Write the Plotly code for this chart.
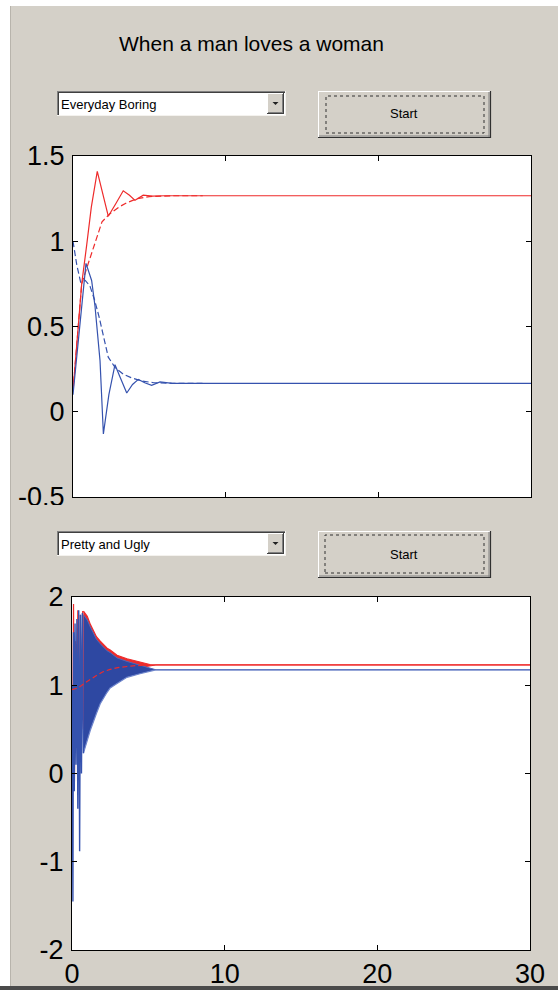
import plotly.graph_objects as go

W, H = 558, 990
GRAY = "#D4D0C8"
RED = "#EE2B2B"
BLUE = "#3552AE"
FONT = "Liberation Sans, Arial, sans-serif"

# ---------------- data: top panel ("Everyday Boring") ----------------
red_solid_t = [0, 0.2, 0.4, 0.57, 0.9, 1.2, 1.59, 1.9, 2.31, 2.8, 3.29, 3.7, 4.06, 4.6, 5.2, 6.0, 30]
red_solid_y = [0.12, 0.33, 0.55, 0.75, 0.98, 1.2, 1.41, 1.3, 1.147, 1.22, 1.296, 1.27, 1.24, 1.27, 1.265, 1.267, 1.267]

red_dash_t = [0, 0.3, 0.57, 1.0, 1.5, 1.9, 2.4, 3.0, 3.5, 4.2, 5.0, 6.5, 8.5]
red_dash_y = [0.12, 0.45, 0.75, 0.87, 1.01, 1.114, 1.16, 1.2, 1.225, 1.25, 1.262, 1.267, 1.267]

blue_solid_t = [0, 0.35, 0.85, 1.22, 1.44, 1.77, 1.99, 2.35, 2.75, 3.1, 3.52, 3.9, 4.28, 4.7, 5.15, 5.7, 6.5, 30]
blue_solid_y = [0.1, 0.42, 0.87, 0.77, 0.62, 0.3, -0.13, 0.1, 0.276, 0.2, 0.11, 0.16, 0.19, 0.17, 0.155, 0.175, 0.167, 0.167]

blue_dash_t = [0, 0.25, 0.5, 0.8, 1.1, 1.4, 1.7, 1.96, 2.31, 2.75, 3.3, 3.8, 4.5, 5.3, 6.5, 8.5]
blue_dash_y = [1.0, 0.86, 0.76, 0.77, 0.74, 0.66, 0.56, 0.45, 0.32, 0.26, 0.22, 0.2, 0.18, 0.17, 0.167, 0.167]

# ---------------- data: bottom panel ("Pretty and Ugly") ----------------
blue_early_t = [0.0, 0.03, 0.06, 0.1, 0.15, 0.2, 0.26, 0.32, 0.38, 0.44, 0.5, 0.56, 0.62, 0.68, 0.75]
blue_early_y = [1.0, -0.6, -1.45, 1.6, -0.2, 1.7, 0.1, 1.75, -0.4, 1.85, -0.88, 1.8, 0.0, 1.82, 0.23]

red_early_t = [0.0, 0.05, 0.1, 0.16, 0.22, 0.3, 0.38, 0.46, 0.54, 0.62, 0.7, 0.75]
red_early_y = [1.0, 0.3, 1.92, -0.1, 1.5, 0.4, 1.85, 0.2, 1.8, 0.5, 1.84, 0.5]

# envelopes of the dense oscillation
env_t = [0.75, 1.0, 1.2, 1.6, 1.85, 2.3, 2.5, 2.95, 3.6, 4.45, 5.1, 5.5, 30]
blue_hi = [1.8, 1.74, 1.66, 1.52, 1.47, 1.39, 1.37, 1.31, 1.27, 1.23, 1.2, 1.175, 1.175]
blue_lo = [0.23, 0.38, 0.49, 0.68, 0.79, 0.92, 0.97, 1.02, 1.09, 1.13, 1.16, 1.175, 1.175]
red_hi = [1.84, 1.78, 1.69, 1.55, 1.5, 1.42, 1.4, 1.34, 1.3, 1.26, 1.235, 1.23, 1.23]
red_lo = [0.5, 0.6, 0.7, 0.85, 0.95, 1.05, 1.08, 1.12, 1.16, 1.2, 1.22, 1.23, 1.23]

red_smooth_t = [0.0, 0.4, 0.8, 1.2, 1.6, 2.0, 2.5, 3.0, 4.0, 5.0]
red_smooth_y = [0.95, 0.97, 1.02, 1.07, 1.11, 1.15, 1.18, 1.2, 1.22, 1.23]

x_ticks = [0, 10, 20, 30]
x_ticktext = ["0", "10", "20", "30"]
top_yticks = [-0.5, 0, 0.5, 1, 1.5]
top_yticktext = ["-0.5", "0", "0.5", "1", "1.5"]
bot_yticks = [-2, -1, 0, 1, 2]
bot_yticktext = ["-2", "-1", "0", "1", "2"]

title_text = "When a man loves a woman"
menu1_text = "Everyday Boring"
menu2_text = "Pretty and Ugly"
button_text = "Start"


def X(px):
    return px / W


def Y(py):
    return 1 - py / H


fig = go.Figure()

# top panel traces
fig.add_trace(go.Scatter(x=red_dash_t, y=red_dash_y, mode="lines",
                         line=dict(color=RED, width=1.2, dash="6px,3px"), xaxis="x", yaxis="y"))
fig.add_trace(go.Scatter(x=red_solid_t, y=red_solid_y, mode="lines",
                         line=dict(color=RED, width=1.2), xaxis="x", yaxis="y"))
fig.add_trace(go.Scatter(x=blue_dash_t, y=blue_dash_y, mode="lines",
                         line=dict(color=BLUE, width=1.2, dash="6px,3px"), xaxis="x", yaxis="y"))
fig.add_trace(go.Scatter(x=blue_solid_t, y=blue_solid_y, mode="lines",
                         line=dict(color=BLUE, width=1.2), xaxis="x", yaxis="y"))

# bottom panel traces
fig.add_trace(go.Scatter(x=env_t, y=red_lo, mode="lines",
                         line=dict(color=RED, width=1), xaxis="x2", yaxis="y2"))
fig.add_trace(go.Scatter(x=env_t, y=red_hi, mode="lines", fill="tonexty", fillcolor=RED,
                         line=dict(color=RED, width=1.2), xaxis="x2", yaxis="y2"))
fig.add_trace(go.Scatter(x=env_t, y=blue_lo, mode="lines",
                         line=dict(color="#6F86CC", width=1.2), xaxis="x2", yaxis="y2"))
fig.add_trace(go.Scatter(x=env_t, y=blue_hi, mode="lines", fill="tonexty", fillcolor="#2E48A2",
                         line=dict(color="#5068B8", width=1), xaxis="x2", yaxis="y2"))
fig.add_trace(go.Scatter(x=red_early_t, y=red_early_y, mode="lines",
                         line=dict(color=RED, width=1.2), xaxis="x2", yaxis="y2"))
fig.add_trace(go.Scatter(x=blue_early_t, y=blue_early_y, mode="lines",
                         line=dict(color=BLUE, width=1.4), xaxis="x2", yaxis="y2"))
fig.add_trace(go.Scatter(x=red_smooth_t, y=red_smooth_y, mode="lines",
                         line=dict(color=RED, width=1.2, dash="5px,3px"), xaxis="x2", yaxis="y2"))

axis_common = dict(showgrid=False, zeroline=False, showline=True, linecolor="black", linewidth=1,
                   mirror="ticks", ticks="inside", ticklen=5, tickcolor="black", tickwidth=1,
                   tickfont=dict(family=FONT, size=27, color="black"), fixedrange=True,
                   automargin=False)

fig.update_layout(
    width=W, height=H, autosize=False,
    margin=dict(l=0, r=0, t=0, b=0, pad=0, autoexpand=False),
    paper_bgcolor=GRAY, plot_bgcolor="white",
    showlegend=False,
    xaxis=dict(domain=[X(73), X(531)], range=[0, 30], tickvals=x_ticks, showticklabels=False,
               anchor="y", **axis_common),
    yaxis=dict(domain=[Y(497), Y(156)], range=[-0.5, 1.5], tickvals=top_yticks, ticktext=top_yticktext,
               anchor="x", ticklabelstandoff=2, **axis_common),
    xaxis2=dict(domain=[X(72), X(530)], range=[0, 30], tickvals=x_ticks, ticktext=x_ticktext,
                anchor="y2", **axis_common),
    yaxis2=dict(domain=[Y(950), Y(597)], range=[-2, 2], tickvals=bot_yticks, ticktext=bot_yticktext,
                anchor="x2", ticklabelstandoff=2, **axis_common),
)

shapes = []


def rect(x0, y0, x1, y1, fill=None, line=None, lw=1, dash=None, layer="above"):
    d = dict(type="rect", xref="paper", yref="paper", x0=X(x0), x1=X(x1), y0=Y(y1), y1=Y(y0),
             layer=layer, line=dict(width=0 if line is None else lw, color=line or "rgba(0,0,0,0)"))
    if dash:
        d["line"]["dash"] = dash
    if fill:
        d["fillcolor"] = fill
    shapes.append(d)


def hline(x0, x1, y, color, lw=1):
    shapes.append(dict(type="line", xref="paper", yref="paper", x0=X(x0), x1=X(x1), y0=Y(y), y1=Y(y),
                       layer="above", line=dict(color=color, width=lw)))


def vline(x, y0, y1, color, lw=1):
    shapes.append(dict(type="line", xref="paper", yref="paper", x0=X(x), x1=X(x), y0=Y(y0), y1=Y(y1),
                       layer="above", line=dict(color=color, width=lw)))


# window frame: white strips left/top, dark bottom line
rect(0, 0, 10, 990, fill="white")
rect(0, 0, 558, 6, fill="white")
vline(10.5, 6, 987, "#B8B4AC")
rect(0, 986, 558, 990, fill="#4A4A4A")
# cover the lower part of the top panel's "-0.5" label
rect(11, 505, 72, 525, fill=GRAY)


def dropdown(x0, y0, x1, y1):
    rect(x0, y0, x1, y1, fill="white")
    hline(x0, x1, y0 + 0.5, "#808080")
    vline(x0 + 0.5, y0, y1, "#808080")
    hline(x0 + 1, x1 - 1, y0 + 1.5, "#404040")
    vline(x0 + 1.5, y0 + 1, y1 - 1, "#404040")
    hline(x0, x1, y1 - 0.5, "#F4F2EE")
    vline(x1 - 0.5, y0, y1, "#F4F2EE")
    # arrow button
    bx0, bx1, by0, by1 = x1 - 19, x1 - 2, y0 + 2, y1 - 2
    rect(bx0, by0, bx1, by1, fill=GRAY)
    hline(bx0, bx1, by0 + 0.5, "white")
    vline(bx0 + 0.5, by0, by1, "white")
    hline(bx0, bx1, by1 - 0.5, "#404040")
    vline(bx1 - 0.5, by0, by1, "#404040")
    hline(bx0 + 1, bx1 - 1, by1 - 1.5, "#808080")
    vline(bx1 - 1.5, by0 + 1, by1 - 1, "#808080")
    cx, cy = (bx0 + bx1) / 2, (by0 + by1) / 2
    shapes.append(dict(type="path", xref="paper", yref="paper", layer="above",
                       path=f"M {X(cx-3)} {Y(cy-1.5)} L {X(cx+3)} {Y(cy-1.5)} L {X(cx)} {Y(cy+1.5)} Z",
                       fillcolor="#202020", line=dict(width=0)))


def button(x0, y0, x1, y1, ix0, iy0, ix1, iy1):
    rect(x0, y0, x1, y1, fill=GRAY)
    hline(x0, x1, y0 + 0.5, "white")
    vline(x0 + 0.5, y0, y1, "white")
    hline(x0, x1, y1 - 0.5, "#303030", 1.2)
    vline(x1 - 0.5, y0, y1, "#303030", 1.2)
    hline(x0 + 1, x1 - 1, y1 - 2, "#808080")
    vline(x1 - 2, y0 + 1, y1 - 1, "#808080")
    rect(ix0, iy0, ix1, iy1, line="#303030", lw=1, dash="dot")


dropdown(57, 91, 286, 116)
button(318, 91, 491, 138, 326, 96, 484, 133)
dropdown(57, 531, 286, 556)
button(318, 531, 491, 578, 325, 535, 484, 573)

fig.update_layout(shapes=shapes)

annotations = [
    dict(text=title_text, x=X(251), y=Y(44), xref="paper", yref="paper", showarrow=False,
         xanchor="center", yanchor="middle", font=dict(family=FONT, size=21, color="black")),
    dict(text=menu1_text, x=X(59), y=Y(104), xref="paper", yref="paper", showarrow=False,
         xanchor="left", yanchor="middle", font=dict(family=FONT, size=13, color="black")),
    dict(text=menu2_text, x=X(59), y=Y(544), xref="paper", yref="paper", showarrow=False,
         xanchor="left", yanchor="middle", font=dict(family=FONT, size=13, color="black")),
    dict(text=button_text, x=X(404), y=Y(114), xref="paper", yref="paper", showarrow=False,
         xanchor="center", yanchor="middle", font=dict(family=FONT, size=13, color="black")),
    dict(text=button_text, x=X(404), y=Y(554), xref="paper", yref="paper", showarrow=False,
         xanchor="center", yanchor="middle", font=dict(family=FONT, size=13, color="black")),
]
fig.update_layout(annotations=annotations)

fig.write_html("out.html", config={"displayModeBar": False},
               post_script="document.body.style.margin='0';document.body.style.overflow='hidden';")
